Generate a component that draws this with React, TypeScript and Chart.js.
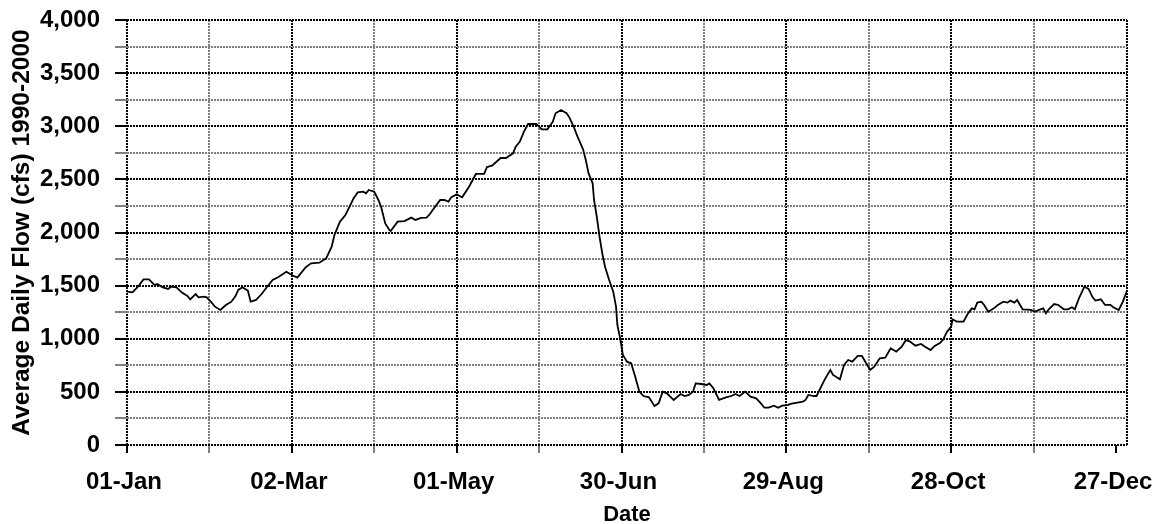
import React, { useEffect, useRef } from "react";
import { Chart, registerables } from "chart.js";

Chart.register(...registerables);

// Day of year (0 = 01-Jan) and 1990-2000 average daily flow (cfs)
const dayOfYear: number[] = [
  0, 2, 4, 6, 8, 10, 11, 13, 15, 16, 18, 20, 22, 23, 25, 26, 28, 29, 30.5, 32,
  34, 36, 38, 39.5, 40.5, 42, 44, 45, 47, 49, 51, 53, 55, 58, 60, 62, 65, 67, 70, 72.5,
  74.5, 75.5, 77.5, 79.5, 81, 82.5, 84, 86, 87, 88, 90, 91.5, 92.5, 94, 95.5, 96, 98.5, 101, 103.5, 105,
  107, 109, 110, 112, 114, 115.5, 117, 118, 120, 122, 124.5, 127, 130, 131, 133, 136, 138, 140.5, 141.5, 143,
  144.5, 146, 149, 151, 153, 155, 156, 158, 160, 161, 162.5, 164, 166, 167, 168, 169.5, 170, 171, 172, 173,
  174, 175.5, 177, 178, 178.5, 179.5, 180.5, 182, 183.5, 185, 186.5, 188, 190, 192, 193.5, 195, 196.5, 199, 201.5, 203,
  204.5, 206, 207, 209, 211, 212, 213.5, 215.5, 218, 220, 221.5, 223, 225, 227, 229, 230.5, 232, 233.5, 235.5, 237,
  238.5, 240.5, 241.5, 244, 246, 247, 248, 250, 251, 253, 254, 256, 257, 259.5, 261, 262.5, 264, 266, 267.5, 270.5,
  272, 274, 276, 278, 280, 282, 283.5, 285, 287, 289, 290.5, 292.5, 294, 296, 297, 298.5, 299.5, 300, 300.5, 302,
  304.5, 306, 307.5, 308.5, 309.5, 311, 312, 313.5, 315.5, 317, 319, 320.5, 321.5, 323, 324, 326, 329, 330.5, 332, 333.5,
  334.5, 335.5, 337.5, 339, 341, 342.5, 344, 345, 346.5, 348.5, 350, 351.5, 352.5, 354.5, 356, 358, 359, 361, 362.5, 364,
];

const avgFlowCfs: number[] = [
  1443, 1437, 1490, 1559, 1559, 1506, 1515, 1484, 1469, 1490, 1484, 1434, 1402, 1371, 1421, 1390, 1396, 1390, 1349, 1302,
  1271, 1318, 1349, 1402, 1459, 1484, 1453, 1349, 1365, 1421, 1490, 1553, 1578, 1631, 1600, 1575, 1672, 1710, 1716, 1757,
  1867, 1976, 2102, 2165, 2243, 2322, 2378, 2384, 2369, 2400, 2384, 2306, 2243, 2086, 2024, 2014, 2102, 2108, 2140, 2118,
  2137, 2140, 2165, 2237, 2306, 2306, 2290, 2331, 2359, 2331, 2431, 2551, 2551, 2614, 2632, 2701, 2701, 2745, 2808, 2855,
  2949, 3021, 3021, 2971, 2971, 3043, 3122, 3153, 3122, 3084, 3002, 2902, 2783, 2682, 2557, 2463, 2306, 2149, 1961, 1804,
  1678, 1553, 1443, 1302, 1129, 1004, 847, 784, 769, 643, 502, 461, 449, 367, 392, 502, 486, 424, 480, 461,
  471, 502, 580, 574, 565, 580, 533, 424, 449, 461, 480, 461, 502, 455, 439, 398, 351, 351, 370, 351,
  370, 376, 386, 398, 408, 424, 471, 461, 461, 565, 618, 706, 659, 618, 753, 800, 784, 838, 838, 706,
  737, 816, 822, 910, 878, 925, 988, 973, 935, 951, 925, 894, 932, 963, 988, 1067, 1098, 1114, 1183, 1161,
  1161, 1233, 1286, 1277, 1340, 1349, 1318, 1255, 1286, 1318, 1349, 1340, 1359, 1340, 1365, 1277, 1271, 1255, 1271, 1286,
  1239, 1277, 1327, 1318, 1277, 1277, 1296, 1277, 1380, 1490, 1469, 1390, 1359, 1371, 1318, 1318, 1296, 1271, 1349, 1452,
];

const xTickDays: number[] = [0, 60, 120, 180, 240, 300, 360];
const xTickLabels: string[] = ["01-Jan", "02-Mar", "01-May", "30-Jun", "29-Aug", "28-Oct", "27-Dec"];
const xGridDays: number[] = [0, 30, 60, 90, 120, 150, 180, 210, 240, 270, 300, 330, 360, 364];
const yGridValues: number[] = [0, 250, 500, 750, 1000, 1250, 1500, 1750, 2000, 2250, 2500, 2750, 3000, 3250, 3500, 3750, 4000];

const FONT = "'Liberation Sans', Arial, sans-serif";
const GRAY = "#808080";

export default function App() {
  const ref = useRef<HTMLCanvasElement>(null);

  useEffect(() => {
    const canvas = ref.current;
    if (!canvas) return;
    const points = dayOfYear.map((d, i) => ({ x: d, y: avgFlowCfs[i] }));
    const chart = new Chart(canvas, {
      type: "line",
      data: {
        datasets: [
          {
            data: points,
            borderColor: "#000",
            borderWidth: 1.8,
            pointRadius: 0,
            tension: 0,
            fill: false,
          },
        ],
      },
      options: {
        responsive: false,
        animation: false,
        plugins: { legend: { display: false }, tooltip: { enabled: false } },
        layout: { padding: { top: 20, right: 31, left: 0, bottom: 0 } },
        scales: {
          x: {
            type: "linear",
            min: 0,
            max: 364,
            afterBuildTicks: (s: any) => {
              s.ticks = xGridDays.map((v) => ({ value: v }));
            },
            afterFit: (s: any) => {
              s.height = 79;
              s.paddingLeft = 0;
              s.paddingRight = 0;
            },
            ticks: {
              autoSkip: false,
              maxRotation: 0,
              minRotation: 0,
              padding: 15,
              labelOffset: -3,
              color: "#000",
              font: { family: FONT, size: 24, weight: "bold" },
              callback: (v: any) => {
                const i = xTickDays.indexOf(Number(v));
                return i >= 0 ? xTickLabels[i] : "";
              },
            },
            grid: {
              lineWidth: 2,
              color: (c: any) => {
                const v = c.tick ? c.tick.value : 0;
                if (v === 360) return "rgba(0,0,0,0)";
                if (v % 60 === 0 || v === 364) return "#000";
                return GRAY;
              },
              tickLength: 8,
              tickWidth: 2,
              tickColor: (c: any) => {
                const v = c.tick ? c.tick.value : 0;
                if (v === 364) return "rgba(0,0,0,0)";
                return v % 60 === 0 ? "#000" : GRAY;
              },
            },
            border: { display: false, dash: [2, 1] },
            title: {
              display: true,
              text: "Date",
              color: "#000",
              font: { family: FONT, size: 22, weight: "bold", lineHeight: 0.86 },
              padding: { top: 0, bottom: 0 },
            },
          },
          y: {
            type: "linear",
            min: 0,
            max: 4000,
            afterBuildTicks: (s: any) => {
              s.ticks = yGridValues.map((v) => ({ value: v }));
            },
            afterFit: (s: any) => {
              s.width = 127;
              s.paddingTop = 0;
              s.paddingBottom = 0;
            },
            ticks: {
              autoSkip: false,
              padding: 15,
              color: "#000",
              font: { family: FONT, size: 24, weight: "bold" },
              callback: (v: any) => (Number(v) % 500 === 0 ? Number(v).toLocaleString("en-US") : ""),
            },
            grid: {
              lineWidth: 2,
              color: (c: any) => {
                const v = c.tick ? c.tick.value : 0;
                return v % 500 === 0 ? "#000" : GRAY;
              },
              tickLength: 12,
              tickWidth: 2,
              tickColor: (c: any) => {
                const v = c.tick ? c.tick.value : 0;
                return v % 500 === 0 ? "#000" : GRAY;
              },
            },
            border: { display: false, dash: [2, 1] },
            title: {
              display: true,
              text: "Average Daily Flow (cfs) 1990-2000",
              color: "#000",
              font: { family: FONT, size: 24.5, weight: "bold" },
              padding: { top: 8, bottom: 0 },
            },
          },
        },
      },
    });
    return () => chart.destroy();
  }, []);

  return (
    <div style={{ position: "fixed", left: 0, top: 0, width: 1158, height: 524, background: "#fff" }}>
      <canvas ref={ref} width={1158} height={524} style={{ display: "block" }} />
    </div>
  );
}
